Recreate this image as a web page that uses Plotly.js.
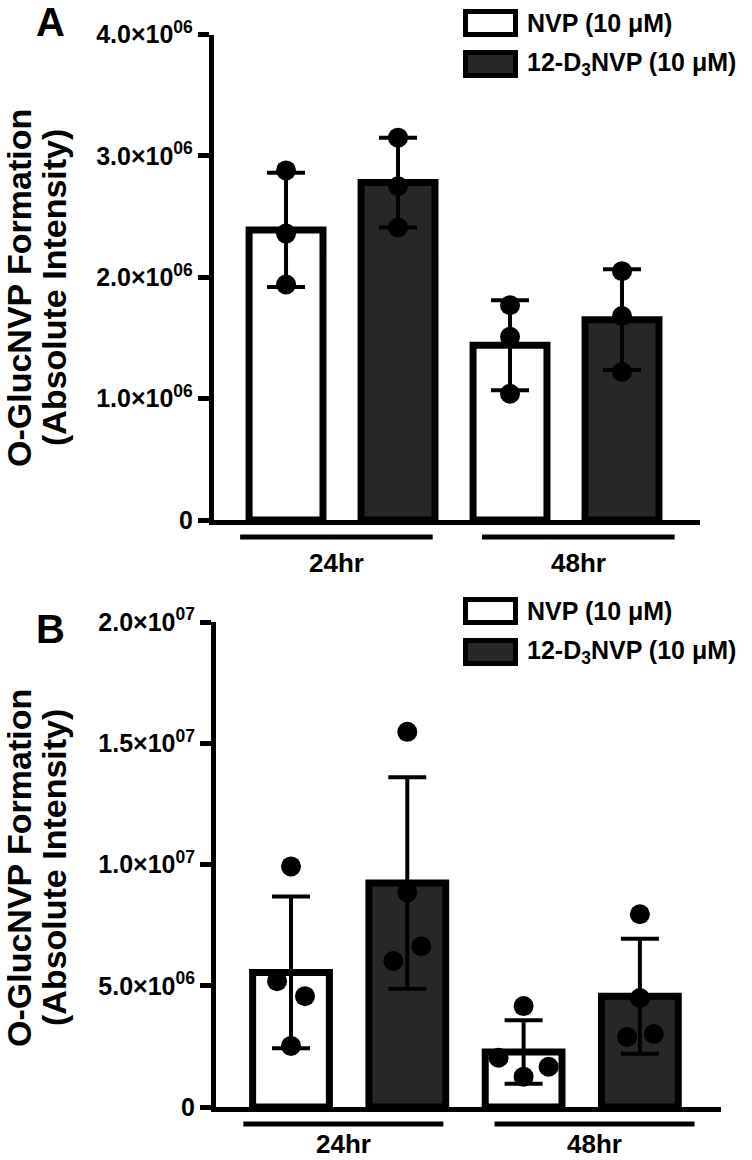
<!DOCTYPE html>
<html>
<head>
<meta charset="utf-8">
<script src="https://cdn.plot.ly/plotly-3.0.1.min.js"></script>
<style>html,body{margin:0;padding:0;background:#fff;}#chart{width:752px;height:1160px;}</style>
</head>
<body>
<div id="chart"></div>
<script>
// ---------- DATA ----------
const groups = ['24hr', '48hr'];
const seriesNames = ['NVP (10 μM)', '12-D<sub>3</sub>NVP (10 μM)'];

// Panel A
const aNvpMean = [2.39e6, 1.44e6];
const aNvpSd = [0.47e6, 0.37e6];
const aD3Mean = [2.78e6, 1.65e6];
const aD3Sd = [0.37e6, 0.415e6];
const aNvpPoints = [[2.88e6, 2.36e6, 1.94e6], [1.77e6, 1.51e6, 1.04e6]];
const aD3Points = [[3.15e6, 2.75e6, 2.41e6], [2.05e6, 1.68e6, 1.22e6]];
const aTickVals = [0, 1e6, 2e6, 3e6, 4e6];
const aTickText = ['0', '1.0×10<sup>06</sup>', '2.0×10<sup>06</sup>', '3.0×10<sup>06</sup>', '4.0×10<sup>06</sup>'];

// Panel B
const bNvpMean = [5.55e6, 2.27e6];
const bNvpSd = [3.13e6, 1.31e6];
const bD3Mean = [9.24e6, 4.57e6];
const bD3Sd = [4.36e6, 2.37e6];
const bNvpPoints = [[9.92e6, 5.19e6, 4.57e6, 2.52e6], [4.16e6, 2.03e6, 1.66e6, 1.25e6]];
const bD3Points = [[15.47e6, 8.85e6, 6.63e6, 6.02e6], [7.95e6, 4.49e6, 2.89e6, 3.01e6]];
const bNvpJitter = [[0, -0.12, 0.12, 0], [0, -0.215, 0.215, 0]];
const bD3Jitter = [[0, 0, 0.12, -0.12], [0, 0, -0.11, 0.12]];
const bTickVals = [0, 5e6, 1e7, 1.5e7, 2e7];
const bTickText = ['0', '5.0×10<sup>06</sup>', '1.0×10<sup>07</sup>', '1.5×10<sup>07</sup>', '2.0×10<sup>07</sup>'];

const yTitle1 = 'O-GlucNVP Formation';
const yTitle2 = '(Absolute Intensity)';
const panelLabels = ['A', 'B'];

// ---------- STYLE ----------
const W = 752, H = 1160;
const FONT = 'Liberation Sans, Arial, Helvetica, sans-serif';
const DARK = '#272727';
const fills = ['#ffffff', DARK];
const px = v => v / W;
const py = v => 1 - v / H;

const traces = [];
function addPanel(xa, ya, means, sds, points, jitters) {
  for (let s = 0; s < 2; s++) {
    const xs = groups.map((g, gi) => 2 * gi + s);
    traces.push({
      type: 'bar', x: xs, y: means[s], xaxis: xa, yaxis: ya,
      width: 0.66,
      marker: {color: fills[s], line: {color: '#000', width: 7}},
      error_y: {type: 'data', array: sds[s], visible: true, color: '#000', thickness: 4, width: 19},
      showlegend: false, hoverinfo: 'skip'
    });
  }
  for (let s = 0; s < 2; s++) {
    const xs = [], ys = [];
    groups.forEach((g, gi) => {
      points[s][gi].forEach((v, k) => {
        xs.push(2 * gi + s + (jitters ? jitters[s][gi][k] : 0));
        ys.push(v);
      });
    });
    traces.push({
      type: 'scatter', mode: 'markers', x: xs, y: ys, xaxis: xa, yaxis: ya,
      marker: {color: '#000', size: 20},
      cliponaxis: false, showlegend: false, hoverinfo: 'skip'
    });
  }
}
addPanel('x', 'y', [aNvpMean, aD3Mean], [aNvpSd, aD3Sd], [aNvpPoints, aD3Points], null);
addPanel('x2', 'y2', [bNvpMean, bD3Mean], [bNvpSd, bD3Sd], [bNvpPoints, bD3Points], [bNvpJitter, bD3Jitter]);

const xRange = [-0.645, 3.70];
function xAxis(dom, anchor) {
  return {domain: dom, range: xRange, anchor: anchor, showline: true, linewidth: 5, linecolor: '#000',
    showgrid: false, zeroline: false, showticklabels: false, ticks: '', fixedrange: true};
}
function yAxis(dom, anchor, range, tv, tt) {
  return {domain: dom, range: range, anchor: anchor, showline: true, linewidth: 5, linecolor: '#000',
    showgrid: false, zeroline: false, ticks: 'outside', ticklen: 11, tickwidth: 5, tickcolor: '#000',
    tickmode: 'array', tickvals: tv, ticktext: tt,
    tickfont: {family: FONT, size: 25, color: '#000', weight: 700}, fixedrange: true};
}

const panels = [
  {x0: 213.8, x1: 700.4, yTop: 34.5, yBot: 520, title: 288, letterY: 22, legY: [23, 64], lineY: 537, labY: 563, labBottom: false},
  {x0: 216, x1: 721.3, yTop: 622, yBot: 1107, title: 868, letterY: 629, legY: [611, 652], lineY: 1124, labY: 1160, labBottom: true}
];

const layout = {
  width: W, height: H, margin: {l: 0, r: 0, t: 0, b: 0},
  paper_bgcolor: '#fff', plot_bgcolor: 'rgba(0,0,0,0)',
  bargap: 0, barmode: 'overlay', showlegend: false,
  font: {family: FONT, color: '#000'},
  xaxis: xAxis([px(panels[0].x0), px(panels[0].x1)], 'y'),
  yaxis: yAxis([py(panels[0].yBot), py(panels[0].yTop)], 'x', [0, 4e6], aTickVals, aTickText),
  xaxis2: xAxis([px(panels[1].x0), px(panels[1].x1)], 'y2'),
  yaxis2: yAxis([py(panels[1].yBot), py(panels[1].yTop)], 'x2', [0, 2e7], bTickVals, bTickText),
  shapes: [], annotations: []
};

const groupSpans = [[-0.41, 1.31], [1.75, 3.47]];
panels.forEach((p, i) => {
  const xr = i === 0 ? 'x' : 'x2';
  [[yTitle1, 19], [yTitle2, 54]].forEach(([t, xc]) => {
    layout.annotations.push({text: t, xref: 'paper', yref: 'paper', x: px(xc), y: py(p.title),
      xanchor: 'center', yanchor: 'middle', textangle: -90, showarrow: false,
      font: {family: FONT, size: 34, color: '#000', weight: 700}});
  });
  layout.annotations.push({text: panelLabels[i], xref: 'paper', yref: 'paper', x: px(50), y: py(p.letterY),
    xanchor: 'center', yanchor: 'middle', showarrow: false,
    font: {family: FONT, size: 40, color: '#000', weight: 700}});
  groups.forEach((g, gi) => {
    const [a, b] = groupSpans[gi];
    layout.shapes.push({type: 'line', xref: xr, yref: 'paper', x0: a, x1: b, y0: py(p.lineY), y1: py(p.lineY),
      line: {color: '#000', width: 5}});
    layout.annotations.push({text: g, xref: xr, yref: 'paper', x: (a + b) / 2, y: py(p.labY),
      xanchor: 'center', yanchor: p.labBottom ? 'bottom' : 'middle', borderpad: 0, showarrow: false,
      font: {family: FONT, size: 26, color: '#000', weight: 700}});
  });
  seriesNames.forEach((n, s) => {
    const yc = p.legY[s];
    layout.shapes.push({type: 'rect', xref: 'paper', yref: 'paper',
      x0: px(465.5), x1: px(515.5), y0: py(yc - 11.5), y1: py(yc + 11.5),
      line: {color: '#000', width: 5}, fillcolor: fills[s]});
    layout.annotations.push({text: n, xref: 'paper', yref: 'paper', x: px(525), y: py(yc),
      xanchor: 'left', yanchor: 'middle', showarrow: false,
      font: {family: FONT, size: 25, color: '#000', weight: 700}});
  });
});

Plotly.newPlot('chart', traces, layout, {staticPlot: true, displayModeBar: false});
</script>
</body>
</html>
